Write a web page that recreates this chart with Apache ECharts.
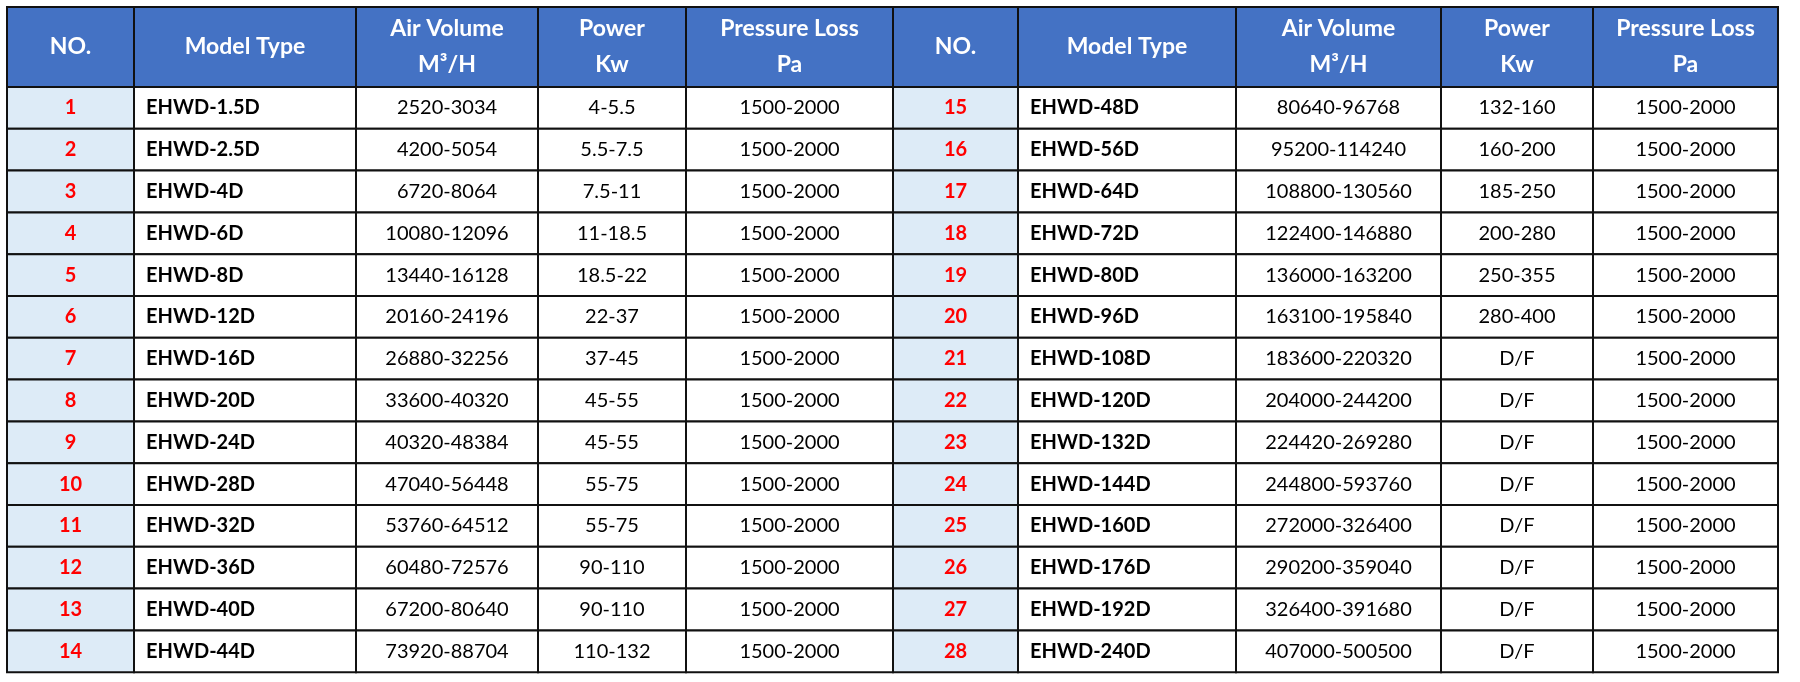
<!DOCTYPE html>
<html>
<head>
    <script src="https://cdn.jsdelivr.net/npm/echarts@6/dist/echarts.min.js"></script>
</head>
<body style="margin:0">
    <div id="main" style="width: 1800px; height: 682px;"></div>
</body>
</html>

<script type="text/javascript">
    let headers = [['NO.'], ['Model Type'], ['Air Volume', 'M³/H'], ['Power', 'Kw'], ['Pressure Loss', 'Pa']]
    let nos = []
    for (let i = 1; i <= 28; i++) nos.push(String(i))
    let models = ['EHWD-1.5D', 'EHWD-2.5D', 'EHWD-4D', 'EHWD-6D', 'EHWD-8D', 'EHWD-12D', 'EHWD-16D',
        'EHWD-20D', 'EHWD-24D', 'EHWD-28D', 'EHWD-32D', 'EHWD-36D', 'EHWD-40D', 'EHWD-44D',
        'EHWD-48D', 'EHWD-56D', 'EHWD-64D', 'EHWD-72D', 'EHWD-80D', 'EHWD-96D', 'EHWD-108D',
        'EHWD-120D', 'EHWD-132D', 'EHWD-144D', 'EHWD-160D', 'EHWD-176D', 'EHWD-192D', 'EHWD-240D']
    let airVolumes = ['2520-3034', '4200-5054', '6720-8064', '10080-12096', '13440-16128', '20160-24196', '26880-32256',
        '33600-40320', '40320-48384', '47040-56448', '53760-64512', '60480-72576', '67200-80640', '73920-88704',
        '80640-96768', '95200-114240', '108800-130560', '122400-146880', '136000-163200', '163100-195840', '183600-220320',
        '204000-244200', '224420-269280', '244800-593760', '272000-326400', '290200-359040', '326400-391680', '407000-500500']
    let powers = ['4-5.5', '5.5-7.5', '7.5-11', '11-18.5', '18.5-22', '22-37', '37-45',
        '45-55', '45-55', '55-75', '55-75', '90-110', '90-110', '110-132',
        '132-160', '160-200', '185-250', '200-280', '250-355', '280-400', 'D/F',
        'D/F', 'D/F', 'D/F', 'D/F', 'D/F', 'D/F', 'D/F']
    let pressures = Array(28).fill('1500-2000')

    // layout (pixels)
    let colEdges = [7, 134, 356, 538, 686, 893, 1018, 1236, 1441, 1593, 1778]
    let tableTop = 7, headBottom = 87, rowH = 41.8
    let font = 'Lato, "Open Sans", sans-serif'

    let cells = []
    for (let half = 0; half < 2; half++) {
        headers.forEach((h, c) => cells.push([half * 5 + c, -1, h.join('\n')]))
        for (let r = 0; r < 14; r++) {
            let i = half * 14 + r
            let vals = [nos[i], models[i], airVolumes[i], powers[i], pressures[i]]
            vals.forEach((v, c) => cells.push([half * 5 + c, r, v]))
        }
    }

    function renderItem(params, api) {
        let c = api.value(0), r = api.value(1), text = cells[params.dataIndex][2]
        let y0 = r < 0 ? tableTop : headBottom + r * rowH
        let y1 = r < 0 ? headBottom : headBottom + (r + 1) * rowH
        let p0 = api.coord([colEdges[c], y0])
        let p1 = api.coord([colEdges[c + 1], y1])
        let col = c % 5
        let fill = r < 0 ? '#4472C4' : (col === 0 ? '#DDEBF7' : '#ffffff')
        let color = r < 0 ? '#ffffff' : (col === 0 ? '#FF0000' : '#000000')
        let bold = r < 0 || col < 2
        let left = r >= 0 && col === 1
        return {
            type: 'group',
            children: [{
                type: 'rect',
                shape: { x: p0[0], y: p0[1], width: p1[0] - p0[0], height: p1[1] - p0[1] },
                style: { fill: fill, stroke: '#111', lineWidth: 2 }
            }, {
                type: 'text',
                style: {
                    text: text,
                    x: left ? p0[0] + 12 : (p0[0] + p1[0]) / 2,
                    y: (p0[1] + p1[1]) / 2,
                    align: left ? 'left' : 'center',
                    verticalAlign: 'middle',
                    fill: color,
                    font: (bold ? 'bold ' : '') + (r < 0 ? '23px ' : '20px ') + font,
                    lineHeight: 36
                }
            }]
        }
    }

    let myChart = echarts.init(document.getElementById('main'))
    myChart.setOption({
        animation: false,
        grid: { left: 0, right: 0, top: 0, bottom: 0 },
        xAxis: { type: 'value', min: 0, max: 1800, show: false },
        yAxis: { type: 'value', min: 0, max: 682, inverse: true, show: false },
        series: [{
            type: 'custom',
            renderItem: renderItem,
            clip: false,
            data: cells.map(d => [d[0], d[1]])
        }]
    })
</script>
